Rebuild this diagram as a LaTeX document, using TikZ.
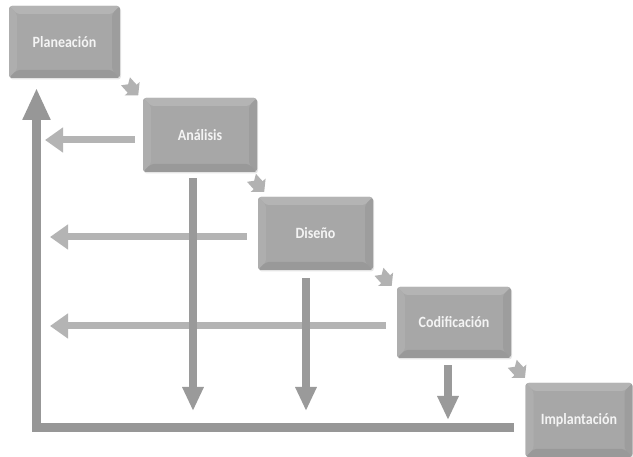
\documentclass[tikz,border=0pt]{standalone}
\usepackage{fontspec}
\setmainfont{Carlito}
\usetikzlibrary{arrows.meta,calc,shadows}
\definecolor{boxc}{HTML}{A7A7A7}
\definecolor{bevtop}{HTML}{B4B4B4}
\definecolor{bevleft}{HTML}{AEAEAE}
\definecolor{bevright}{HTML}{9D9D9D}
\definecolor{bevbot}{HTML}{999999}
\definecolor{fbc}{HTML}{B4B4B4}
\definecolor{dnc}{HTML}{9A9A9A}
\definecolor{lc}{HTML}{979797}
\definecolor{chevc}{HTML}{B2B2B2}
\definecolor{txtc}{HTML}{F4F4F4}
\newcommand{\boxtxt}[1]{\scalebox{1}[1.12]{#1}}
\tikzset{
  box/.style={inner sep=0pt, rounded corners=3pt, fill=boxc,
    font=\fontsize{14}{16}\selectfont\bfseries, text=txtc,
    drop shadow={opacity=0.2, shadow xshift=1pt, shadow yshift=-1.5pt},
    path picture={
      \fill[bevtop] (path picture bounding box.north west) -- (path picture bounding box.north east)
        -- ([shift={(-8pt,-8pt)}]path picture bounding box.north east)
        -- ([shift={(8pt,-8pt)}]path picture bounding box.north west) -- cycle;
      \fill[bevleft] (path picture bounding box.north west) -- ([shift={(8pt,-8pt)}]path picture bounding box.north west)
        -- ([shift={(8pt,8pt)}]path picture bounding box.south west)
        -- (path picture bounding box.south west) -- cycle;
      \fill[bevright] (path picture bounding box.north east) -- ([shift={(-8pt,-8pt)}]path picture bounding box.north east)
        -- ([shift={(-8pt,8pt)}]path picture bounding box.south east)
        -- (path picture bounding box.south east) -- cycle;
      \fill[bevbot] (path picture bounding box.south west) -- ([shift={(8pt,8pt)}]path picture bounding box.south west)
        -- ([shift={(-8pt,8pt)}]path picture bounding box.south east)
        -- (path picture bounding box.south east) -- cycle;
    }},
  fb/.style={draw=fbc, line width=7pt, line cap=butt, -{Triangle[length=18pt,width=24pt]}},
  dn/.style={draw=dnc, line width=8pt, line cap=butt, -{Triangle[length=24pt,width=20pt]}},
  bigl/.style={draw=lc, line width=9pt, line cap=butt, line join=miter, -{Triangle[length=32pt,width=26pt]}},
  chev/.pic={\fill[chevc] (-9,-6) -- (1,-6) -- (1,-10) -- (10,0) -- (1,10) -- (1,6) -- (-9,6) -- (-5,0) -- cycle;}
}
\begin{document}
\begin{tikzpicture}[x=1pt,y=-1pt]
\useasboundingbox (0,0) rectangle (633,457);
\fill[white] (0,0) rectangle (633,457);

% big L return arrow
\coordinate (ls) at (514,428);
\coordinate (lc) at (36.5,428);
\coordinate (lt) at (36.5,88);
\draw[bigl] (ls) -- (lc) -- (lt);

% boxes
\node[box, minimum width=111pt, minimum height=72pt] (p) at (64.5,42) {\boxtxt{Planeación}};
\node[box, minimum width=114pt, minimum height=74pt] (a) at (200,135) {\boxtxt{Análisis}};
\node[box, minimum width=115pt, minimum height=73pt] (d) at (315.5,233.5) {\boxtxt{Diseño}};
\node[box, minimum width=114pt, minimum height=71pt] (c) at (454,322.5) {\boxtxt{Codificación}};
\node[box, minimum width=107pt, minimum height=74pt] (i) at (579,420) {\boxtxt{Implantación}};

% feedback arrows
\coordinate (fa) at ([xshift=-8pt,yshift=-5pt]a.west);
\coordinate (fd) at ([xshift=-11pt,yshift=-3.5pt]d.west);
\coordinate (fc) at ([xshift=-11pt,yshift=-3.5pt]c.west);
\coordinate (fax) at (45,0);
\coordinate (fx) at (50,0);
\draw[fb] (fa) -- (fa -| fax);
\draw[fb] (fd) -- (fd -| fx);
\draw[fb] (fc) -- (fc -| fx);

% downward arrows
\coordinate (bot1) at (0,411);
\coordinate (bot2) at (0,420);
\coordinate (da) at ([xshift=-7pt,yshift=-6pt]a.south);
\coordinate (dd) at ([xshift=-9.5pt,yshift=-8pt]d.south);
\coordinate (dc) at ([xshift=-6pt,yshift=-7pt]c.south);
\draw[dn] (da) -- (da |- bot1);
\draw[dn] (dd) -- (dd |- bot1);
\draw[dn] (dc) -- (dc |- bot2);

% step arrows between boxes
\pic[rotate=-48] at ($(p.south east)!0.5!(a.north west)$) {chev};
\pic[rotate=-48] at ($(a.south east)!0.5!(d.north west)$) {chev};
\pic[rotate=-48] at ($(d.south east)!0.5!(c.north west)$) {chev};
\pic[rotate=-48] at ($(c.south east)!0.5!(i.north west)$) {chev};
\end{tikzpicture}
\end{document}
